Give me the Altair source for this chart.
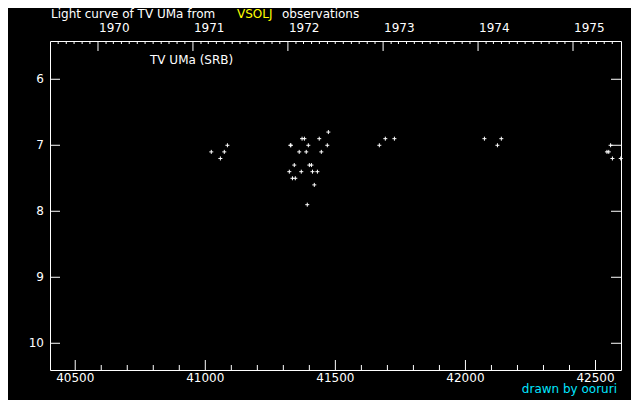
import datetime as dt
import altair as alt
import pandas as pd

# Observations (JD - 2400000, visual magnitude)
jd = [41023, 41058, 41073, 41085,
      41327, 41329, 41372, 41381, 41361, 41388, 41396, 41438, 41473, 41469, 41446,
      41342, 41400, 41408, 41323, 41369, 41412, 41431, 41335, 41346, 41419, 41392,
      41669, 41692, 41727,
      42073, 42123, 42138,
      42558, 42544, 42551, 42565, 42597]
mag = [7.1, 7.2, 7.1, 7.0,
       7.0, 7.0, 6.9, 6.9, 7.1, 7.1, 7.0, 6.9, 6.8, 7.0, 7.1,
       7.3, 7.3, 7.3, 7.4, 7.4, 7.4, 7.4, 7.5, 7.5, 7.6, 7.9,
       7.0, 6.9, 6.9,
       6.9, 7.0, 6.9,
       7.0, 7.1, 7.1, 7.2, 7.2]

jd_major = [40500, 41000, 41500, 42000, 42500]
jd_minor = [v for v in range(40500, 42501, 100) if v % 500 != 0]
mag_ticks = [6, 7, 8, 9, 10]
years = [1970, 1971, 1972, 1973, 1974, 1975]

X_DOMAIN = [40403, 42598]
Y_DOMAIN = [5.42, 10.405]
W, H = 571, 329

def jd_of(d):
    return (d - dt.date(1858, 11, 17)).days + 0.5

month_major, month_minor = [], []
y, m = 1969, 8
while (y, m) <= (1975, 6):
    v = jd_of(dt.date(y, m, 1))
    (month_major if m == 1 else month_minor).append(v)
    m += 1
    if m > 12:
        m, y = 1, y + 1

obs = pd.DataFrame({"jd": jd, "mag": mag})
yr = pd.DataFrame({"jd": [jd_of(dt.date(a, 1, 1)) for a in years],
                   "label": [str(a) for a in years]})
xlab = pd.DataFrame({"jd": jd_major, "label": [str(v) for v in jd_major]})
ylab = pd.DataFrame({"mag": mag_ticks, "label": [str(v) for v in mag_ticks]})

FONT = "DejaVu Sans"
xs = alt.Scale(domain=X_DOMAIN, nice=False, zero=False)
ys = alt.Scale(domain=Y_DOMAIN, nice=False, zero=False, reverse=True)

points = alt.Chart(obs).mark_point(
    shape="M-1,0L1,0M0,-1L0,1", size=16, filled=False,
    stroke="white", strokeWidth=1, opacity=1
).encode(
    x=alt.X("jd:Q", scale=xs, axis=None),
    y=alt.Y("mag:Q", scale=ys, axis=None),
)

def xrules(values, y1, y2):
    return alt.Chart(pd.DataFrame({"jd": values})).mark_rule(
        color="white", strokeWidth=1
    ).encode(x=alt.X("jd:Q", scale=xs, axis=None),
             y=alt.value(y1), y2=alt.value(y2))

def yrules(x1, x2):
    return alt.Chart(pd.DataFrame({"mag": mag_ticks})).mark_rule(
        color="white", strokeWidth=1
    ).encode(y=alt.Y("mag:Q", scale=ys, axis=None),
             x=alt.value(x1), x2=alt.value(x2))

bottom_major = xrules(jd_major, H, H - 10)
bottom_minor = xrules(jd_minor, H, H - 5)
top_major = xrules(month_major, 0, 10)
top_minor = xrules(month_minor, 0, 3)
left_ticks = yrules(0, 10)
right_ticks = yrules(W - 10, W)

year_labels = alt.Chart(yr).mark_text(
    align="left", baseline="alphabetic", color="white", font=FONT, fontSize=12, dx=1
).encode(x=alt.X("jd:Q", scale=xs, axis=None), y=alt.value(-9), text="label:N")

x_labels = alt.Chart(xlab).mark_text(
    align="center", baseline="alphabetic", color="white", font=FONT, fontSize=12
).encode(x=alt.X("jd:Q", scale=xs, axis=None), y=alt.value(H + 12), text="label:N")

y_labels = alt.Chart(ylab).mark_text(
    align="right", baseline="middle", color="white", font=FONT, fontSize=12
).encode(y=alt.Y("mag:Q", scale=ys, axis=None), x=alt.value(-6), text="label:N")

def label(text, x, y, color="white", align="left"):
    return alt.Chart(pd.DataFrame({"t": [text]})).mark_text(
        align=align, baseline="alphabetic", color=color, font=FONT, fontSize=12
    ).encode(x=alt.value(x), y=alt.value(y), text="t:N")

title1 = label("Light curve of TV UMa from", 1, -23)
title2 = label("VSOLJ", 187, -23, color="#ffff00")
title3 = label("observations", 232, -23)
star = label("TV UMa (SRB)", 100, 23)
credit = label("drawn by ooruri", 567, 352, color="#00e5ff", align="right")

chart = alt.layer(
    points, bottom_major, bottom_minor, top_major, top_minor, left_ticks, right_ticks,
    year_labels, x_labels, y_labels, title1, title2, title3, star, credit
).properties(
    width=W, height=H,
    autosize=alt.AutoSizeParams(type="none"),
    padding={"left": 42, "top": 33, "right": 10, "bottom": 30},
    background="black",
).configure_view(stroke="white", strokeWidth=1)

chart.save("out.html", embed_options={"renderer": "svg", "actions": False})
